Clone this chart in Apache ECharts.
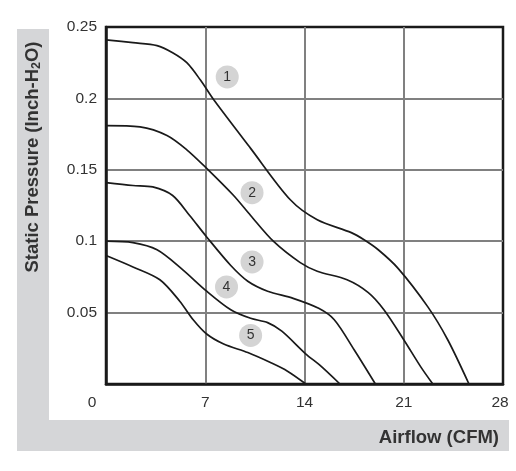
<!DOCTYPE html>
<html>
<head>
<meta charset="utf-8">
<script src="https://cdn.jsdelivr.net/npm/echarts@6/dist/echarts.min.js"></script>
<style>
  html, body { margin: 0; padding: 0; background: #fff; }
  #chart { width: 516px; height: 471px; }
</style>
</head>
<body>
<div id="chart"></div>
<script>
// fan curves, [airflow CFM, static pressure inch-H2O]
var curve1 = [[0, 0.241], [1.9, 0.239], [3.6, 0.237], [4.7, 0.232], [5.7, 0.225], [6.65, 0.213], [7.6, 0.199],
    [10.2, 0.165], [13.0, 0.129], [14.9, 0.115], [17.3, 0.106], [18.2, 0.101],
    [19.2, 0.094], [20.6, 0.081], [22.7, 0.054], [24.1, 0.031], [25.6, 0]];
var curve2 = [[0, 0.181], [2.4, 0.180], [4.3, 0.174], [5.7, 0.164], [7.1, 0.151], [9.0, 0.132], [10.2, 0.118],
    [11.8, 0.100], [13.7, 0.085], [14.9, 0.079], [17.0, 0.073], [18.5, 0.064], [19.6, 0.052], [21.0, 0.031],
    [22.2, 0.012], [23.05, 0]];
var curve3 = [[0, 0.141], [1.9, 0.139], [3.3, 0.138], [4.7, 0.132], [5.9, 0.118], [7.1, 0.103], [8.8, 0.083],
    [10.0, 0.072], [11.4, 0.065], [13.2, 0.060], [15.0, 0.053], [16.1, 0.045], [17.5, 0.024], [19.0, 0]];
var curve4 = [[0, 0.100], [1.9, 0.099], [3.6, 0.094], [5.3, 0.081], [7.1, 0.065], [8.8, 0.052], [10.2, 0.046],
    [11.4, 0.043], [12.4, 0.037], [14.1, 0.021], [15.1, 0.013], [16.5, 0]];
var curve5 = [[0, 0.090], [1.9, 0.082], [3.8, 0.073], [5.2, 0.058], [6.15, 0.045], [7.1, 0.035], [8.3, 0.028],
    [10.0, 0.022], [11.6, 0.015], [12.8, 0.009], [14.1, 0]];

var curveNames = ['1', '2', '3', '4', '5'];
// where the numbered badges sit
var badgePos = [[8.55, 0.215], [10.3, 0.134], [10.3, 0.0855], [8.5, 0.068], [10.2, 0.034]];

var xTicks = [0, 7, 14, 21, 28];
var yTicks = [0, 0.05, 0.1, 0.15, 0.2, 0.25];

var font = '"Liberation Sans", Arial, sans-serif';
var chart = echarts.init(document.getElementById('chart'));

var curves = [curve1, curve2, curve3, curve4, curve5];
var series = curves.map(function (c, i) {
    return {
        name: curveNames[i],
        type: 'line',
        data: c,
        smooth: 0.3,
        showSymbol: false,
        lineStyle: { color: '#1a1a1a', width: 1.7 },
        z: 3
    };
});
series.push({
    type: 'scatter',
    data: badgePos.map(function (p, i) { return { value: p, name: curveNames[i] }; }),
    symbolSize: 23,
    itemStyle: { color: '#d4d4d4', opacity: 1 },
    label: {
        show: true,
        formatter: '{b}',
        position: 'inside',
        color: '#333',
        fontSize: 14,
        fontFamily: font
    },
    z: 4
});

chart.setOption({
    animation: false,
    backgroundColor: '#fff',
    graphic: [
        { type: 'rect', shape: { x: 17, y: 29, width: 32, height: 422 }, style: { fill: '#d5d6d8' }, z: -10 },
        { type: 'rect', shape: { x: 17, y: 420, width: 492, height: 31 }, style: { fill: '#d5d6d8' }, z: -10 },
        {
            type: 'text', x: 33, y: 157, rotation: Math.PI / 2,
            style: {
                text: 'Static Pressure (Inch-H{sub|2}O)',
                align: 'center', verticalAlign: 'middle',
                font: 'bold 18.5px ' + font, fill: '#333',
                rich: { sub: { fontSize: 12.5, fontWeight: 'bold', fontFamily: font, padding: [8, 0, 0, 0] } }
            }
        },
        {
            type: 'text', x: 499, y: 438,
            style: {
                text: 'Airflow (CFM)', align: 'right', verticalAlign: 'middle',
                font: 'bold 18.5px ' + font, fill: '#333'
            }
        }
    ],
    grid: {
        left: 106, right: 13, top: 27, bottom: 87,
        show: true, borderColor: '#1a1a1a', borderWidth: 2.5, backgroundColor: '#fff'
    },
    xAxis: {
        type: 'value', min: xTicks[0], max: xTicks[xTicks.length - 1], interval: 7,
        axisLine: { show: true, lineStyle: { color: '#1a1a1a', width: 2.5 } },
        axisTick: { show: false },
        axisLabel: {
            margin: 11, color: '#333', fontSize: 15.5, fontFamily: font,
            formatter: function (v) { return v === 0 ? '{zero|0}' : (v === 28 ? '{end|28}' : String(v)); },
            rich: {
                zero: { padding: [0, 28, 0, 0], fontSize: 15.5, fontFamily: font, color: '#333' },
                end: { padding: [0, 6, 0, 0], fontSize: 15.5, fontFamily: font, color: '#333' }
            }
        },
        splitLine: { show: true, showMinLine: false, showMaxLine: false, lineStyle: { color: '#808080', width: 2 } }
    },
    yAxis: {
        type: 'value', min: yTicks[0], max: yTicks[yTicks.length - 1], interval: 0.05,
        axisLine: { show: true, lineStyle: { color: '#1a1a1a', width: 2.5 } },
        axisTick: { show: false },
        axisLabel: {
            margin: 9, color: '#333', fontSize: 15.5, fontFamily: font,
            formatter: function (v) { return v === 0 ? '' : String(+v.toFixed(2)); }
        },
        splitLine: { show: true, showMinLine: false, showMaxLine: false, lineStyle: { color: '#808080', width: 2 } }
    },
    series: series
});
</script>
</body>
</html>
